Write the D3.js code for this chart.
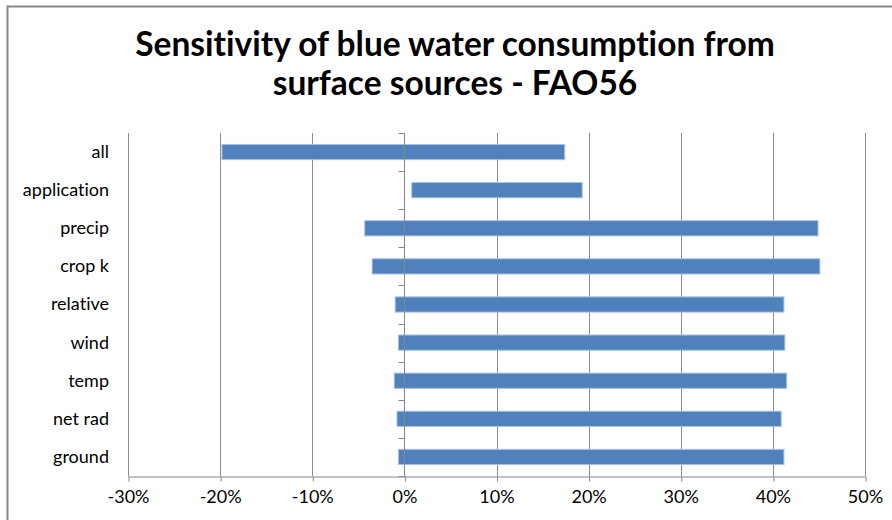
<!DOCTYPE html>
<html>
<head>
<meta charset="utf-8">
<script src="https://cdn.jsdelivr.net/npm/d3@7"></script>
<style>
  html, body { margin: 0; padding: 0; background: #fff; }
  svg { display: block; }
  text { font-variant-ligatures: none; }
</style>
</head>
<body>
<div id="chart"></div>
<script>
// Sensitivity ranges (fraction change) per driver
const categories = ["all", "application", "precip", "crop k", "relative", "wind", "temp", "net rad", "ground"];
const lowValues  = [-0.198, 0.008, -0.043, -0.035, -0.010, -0.0065, -0.011, -0.008, -0.0065];
const highValues = [0.174, 0.193, 0.449, 0.451, 0.412, 0.413, 0.415, 0.409, 0.412];
const xTicks = [-0.3, -0.2, -0.1, 0, 0.1, 0.2, 0.3, 0.4, 0.5];
const titleLines = ["Sensitivity of blue water consumption from", "surface sources - FAO56"];

const W = 892, H = 520;
const margin = { left: 128, right: 27, top: 133, bottom: 44 };
const font = "Lato, 'Open Sans', sans-serif";

const svg = d3.select("#chart").append("svg").attr("width", W).attr("height", H);

// outer chart frame
svg.append("rect")
  .attr("x", 7.5).attr("y", 6.5).attr("width", W + 10).attr("height", H + 10)
  .attr("fill", "#fff").attr("stroke", "#868686").attr("stroke-width", 2);

const x = d3.scaleLinear().domain([-0.3, 0.5]).range([margin.left, W - margin.right]);
const y = d3.scaleBand().domain(categories).range([margin.top, H - margin.bottom]).paddingInner(0.6).paddingOuter(0.3);

// vertical gridlines
svg.append("g").selectAll("line").data(xTicks).join("line")
  .attr("x1", d => Math.round(x(d)) + 0.5).attr("x2", d => Math.round(x(d)) + 0.5)
  .attr("y1", margin.top).attr("y2", H - margin.bottom)
  .attr("stroke", "#8c8c8c").attr("stroke-width", 1);

// range bars
svg.append("g").selectAll("rect").data(categories).join("rect")
  .attr("x", (d, i) => x(lowValues[i]))
  .attr("width", (d, i) => x(highValues[i]) - x(lowValues[i]))
  .attr("y", d => y(d))
  .attr("height", y.bandwidth())
  .attr("fill", "#4f81bd")
  .attr("stroke", "#a9c1e3").attr("stroke-width", 1);

// bottom axis, percent labels with a plain hyphen for negatives
const pct = d => `${Math.round(d * 100)}%`;
const xAxis = d3.axisBottom(x).tickValues(xTicks).tickSize(5).tickSizeOuter(0).tickFormat(pct);
const gx = svg.append("g").attr("transform", `translate(0,${H - margin.bottom + 0.5})`).call(xAxis);
gx.select(".domain").attr("stroke", "#868686");
gx.selectAll(".tick line").attr("stroke", "#868686").attr("transform", "translate(0.5,0)");
gx.selectAll(".tick text").attr("y", 14).attr("dy", "0.71em")
  .style("font-family", font).style("font-size", "18px").attr("fill", "#000");

// category axis drawn along zero
const bandStep = y.step();
const yBoundaries = d3.range(categories.length + 1).map(i => margin.top + i * bandStep);
const zx = Math.round(x(0)) + 0.5;
svg.append("line").attr("x1", zx).attr("x2", zx)
  .attr("y1", margin.top).attr("y2", H - margin.bottom)
  .attr("stroke", "#868686").attr("stroke-width", 1);
svg.append("g").selectAll("line").data(yBoundaries).join("line")
  .attr("x1", zx - 6).attr("x2", zx)
  .attr("y1", d => Math.round(d) + 0.5).attr("y2", d => Math.round(d) + 0.5)
  .attr("stroke", "#868686");

// category labels
svg.append("g").selectAll("text").data(categories).join("text")
  .attr("x", 109)
  .attr("y", d => y(d) + y.bandwidth() / 2)
  .attr("dy", "0.33em")
  .attr("text-anchor", "end")
  .style("font-family", font).style("font-size", "18px")
  .text(d => d);

// title
svg.append("g").selectAll("text").data(titleLines).join("text")
  .attr("x", 455)
  .attr("y", (d, i) => 56 + i * 39)
  .attr("text-anchor", "middle")
  .style("font-family", font).style("font-size", "33.5px").style("font-weight", "bold")
  .text(d => d);
</script>
</body>
</html>
